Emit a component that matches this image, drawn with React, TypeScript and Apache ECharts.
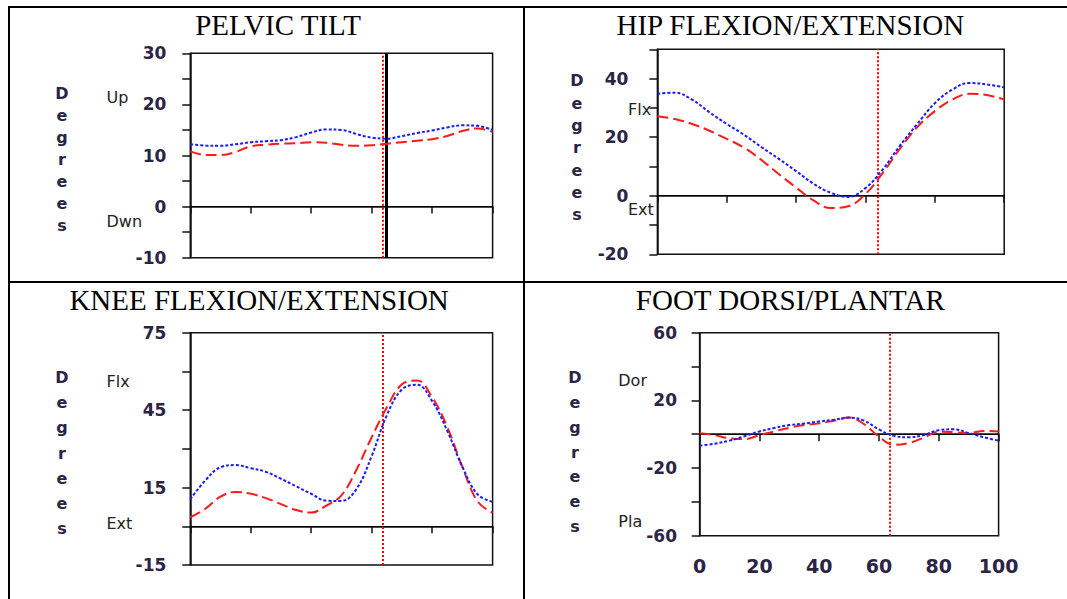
import React, { useEffect, useRef } from "react";
import * as echarts from "echarts";

// Percent of gait cycle
const pct = [0, 5, 10, 15, 20, 25, 30, 35, 40, 45, 50, 55, 60, 65, 70, 75, 80, 85, 90, 95, 100];

// Pelvic tilt (degrees)
const pelvicBlue = [12.2, 11.95, 11.9, 12.2, 12.6, 12.8, 13.0, 13.6, 14.5, 15.1, 15.0, 14.2, 13.5, 13.3, 13.8, 14.4, 14.9, 15.5, 15.9, 15.8, 15.0];
const pelvicRed = [10.8, 10.1, 10.1, 10.7, 11.8, 12.1, 12.3, 12.4, 12.6, 12.5, 12.1, 11.9, 12.0, 12.3, 12.6, 12.9, 13.2, 13.8, 14.8, 15.3, 14.6];

// Hip flexion / extension
const hipBlue = [34.8, 35.2, 32.8, 28.5, 24.5, 20.8, 16.6, 12.6, 8.4, 4.1, 1.0, -0.4, 2.6, 9.0, 17.2, 24.6, 31.6, 36.2, 38.5, 38.0, 37.0];
const hipRed = [27.1, 26.2, 24.5, 22.2, 19.4, 16.4, 12.2, 7.4, 2.8, -1.6, -4.2, -3.6, 0.6, 7.8, 16.2, 23.5, 28.9, 32.8, 34.8, 34.4, 32.8];

// Knee flexion / extension
const kneeBlue = [10.5, 17.8, 22.9, 23.7, 22.5, 21.1, 18.4, 15.5, 12.6, 9.9, 9.8, 14.5, 27.2, 43.0, 53.0, 54.8, 48.5, 37.0, 23.0, 12.4, 9.5];
const kneeRed = [3.5, 6.8, 11.5, 13.3, 12.6, 10.9, 8.6, 6.3, 5.3, 8.0, 12.0, 22.0, 34.5, 46.0, 55.0, 56.5, 50.0, 38.5, 23.0, 9.7, 5.2];

// Foot dorsi / plantar
const footBlue = [-6.8, -5.6, -3.8, -1.2, 1.6, 3.7, 5.4, 6.3, 7.5, 8.6, 9.8, 8.0, 2.8, -1.0, -1.8, -0.5, 2.4, 2.9, 0.7, -1.8, -3.8];
const footRed = [0.5, -0.6, -2.4, -2.9, -0.6, 1.7, 3.8, 5.4, 6.4, 8.0, 9.8, 6.0, -1.5, -6.3, -5.2, -2.0, 1.4, 1.2, 0.6, 1.9, 1.6];

// Event markers (percent of cycle)
const toeOffPct = 63.6;
const pelvicBlackPct = 64.9;

// Tick labels
const xTickLabels = [0, 20, 40, 60, 80, 100];
const pelvicTickLabels = [-10, 0, 10, 20, 30];
const hipTickLabels = [-20, 0, 20, 40];
const kneeTickLabels = [-15, 15, 45, 75];
const footTickLabels = [-60, -20, 20, 60];

const titles = ["PELVIC TILT", "HIP FLEXION/EXTENSION", "KNEE FLEXION/EXTENSION", "FOOT DORSI/PLANTAR"];
const upperNotes = ["Up", "Flx", "Flx", "Dor"];
const lowerNotes = ["Dwn", "Ext", "Ext", "Pla"];

const SANS = "DejaVu Sans";
const SERIF = "Liberation Serif";
const NUM_COLOR = "#2b2444";
const BLUE = "#1a1aff";
const RED = "#ff1a1a";

const panels = [
  {
    grid: { left: 190.3, top: 53.3, width: 302.3, height: 204.4 },
    yMin: -10, yMax: 30, yStep: 5, labels: pelvicTickLabels, labelMargin: 24,
    blue: pelvicBlue, red: pelvicRed, black: true, showX: false,
    titleX: 278, titleY: 24.5, degX: 62, degY: 159.5, degLH: 22.1,
    noteX: 106.5, upY: 97, downY: 221.3,
  },
  {
    grid: { left: 657.4, top: 49.3, width: 346.8, height: 205 },
    yMin: -20, yMax: 50, yStep: 10, labels: hipTickLabels, labelMargin: 29,
    blue: hipBlue, red: hipRed, black: false, showX: false,
    titleX: 790.3, titleY: 24.5, degX: 577, degY: 147.8, degLH: 22.4,
    noteX: 628, upY: 109.2, downY: 209.7,
  },
  {
    grid: { left: 190.3, top: 332.7, width: 302.3, height: 232.3 },
    yMin: -15, yMax: 75, yStep: 15, labels: kneeTickLabels, labelMargin: 24,
    blue: kneeBlue, red: kneeRed, black: false, showX: false,
    titleX: 259.1, titleY: 299.5, degX: 62, degY: 453, degLH: 25.1,
    noteX: 106.5, upY: 381.3, downY: 523.3,
  },
  {
    grid: { left: 699.6, top: 332.7, width: 299, height: 203 },
    yMin: -60, yMax: 60, yStep: 20, labels: footTickLabels, labelMargin: 22.6,
    blue: footBlue, red: footRed, black: false, showX: true,
    titleX: 790.3, titleY: 299.5, degX: 575, degY: 452.2, degLH: 24.8,
    noteX: 618.3, upY: 380.5, downY: 521.3,
  },
];

function buildOption() {
  const grids: any[] = [];
  const xAxes: any[] = [];
  const yAxes: any[] = [];
  const series: any[] = [];
  const graphics: any[] = [];

  // table borders
  graphics.push(
    { type: "rect", shape: { x: 8, y: 6, width: 2, height: 593 }, style: { fill: "#000" } },
    { type: "rect", shape: { x: 8, y: 6, width: 1059, height: 2 }, style: { fill: "#000" } },
    { type: "rect", shape: { x: 523, y: 6, width: 2, height: 593 }, style: { fill: "#000" } },
    { type: "rect", shape: { x: 8, y: 281, width: 1059, height: 2 }, style: { fill: "#000" } }
  );

  panels.forEach((p, i) => {
    grids.push({
      ...p.grid,
      show: true,
      borderColor: "#111",
      borderWidth: 1.5,
      backgroundColor: "transparent",
      containLabel: false,
    });
    xAxes.push({
      type: "value",
      gridIndex: i,
      min: 0,
      max: 100,
      interval: 20,
      axisLine: { show: true, lineStyle: { color: "#111", width: 1.5 } },
      axisTick: { show: true, inside: false, length: 7, lineStyle: { color: "#111", width: 1.5 } },
      splitLine: { show: false },
      axisLabel: {
        show: p.showX,
        margin: 21,
        fontFamily: SANS,
        fontWeight: "bold",
        fontSize: 19,
        color: NUM_COLOR,
        formatter: (v: number) => (xTickLabels.includes(v) ? String(v) : ""),
      },
    });
    yAxes.push({
      type: "value",
      gridIndex: i,
      min: p.yMin,
      max: p.yMax,
      interval: p.yStep,
      axisLine: { show: true, lineStyle: { color: "#111", width: 1.5 } },
      axisTick: { show: true, inside: false, length: 8, lineStyle: { color: "#111", width: 1.5 } },
      splitLine: { show: false },
      axisLabel: {
        show: true,
        margin: p.labelMargin,
        fontFamily: SANS,
        fontWeight: "bold",
        fontSize: 17,
        color: NUM_COLOR,
        formatter: (v: number) => (p.labels.includes(v) ? String(v) : ""),
      },
    });

    const markData: any[] = [
      { yAxis: 0, lineStyle: { color: "#000", width: 1.2, type: "solid" } },
      { xAxis: toeOffPct, lineStyle: { color: "#ff0000", width: 2, type: [2, 2] } },
    ];
    if (p.black) {
      markData.push({ xAxis: pelvicBlackPct, lineStyle: { color: "#000", width: 3, type: "solid" } });
    }

    series.push({
      type: "line",
      name: "ref" + i,
      xAxisIndex: i,
      yAxisIndex: i,
      data: pct.map((x, j) => [x, p.red[j]]),
      smooth: 0.4,
      symbol: "none",
      showSymbol: false,
      lineStyle: { color: RED, width: 2, type: [11, 5] },
      z: 3,
      markLine: {
        silent: true,
        symbol: ["none", "none"],
        label: { show: false },
        data: markData,
        z: 2,
      },
    });
    series.push({
      type: "line",
      name: "pat" + i,
      xAxisIndex: i,
      yAxisIndex: i,
      data: pct.map((x, j) => [x, p.blue[j]]),
      smooth: 0.4,
      symbol: "none",
      showSymbol: false,
      lineStyle: { color: BLUE, width: 2, type: [3, 2] },
      z: 4,
    });

    graphics.push({
      type: "text",
      x: p.titleX,
      y: p.titleY,
      style: {
        text: titles[i],
        fontFamily: SERIF,
        fontSize: 29,
        fill: "#000",
        align: "center",
        verticalAlign: "middle",
      },
    });
    graphics.push({
      type: "text",
      x: p.degX,
      y: p.degY,
      style: {
        text: "D\ne\ng\nr\ne\ne\ns",
        fontFamily: SANS,
        fontWeight: "bold",
        fontSize: 16,
        lineHeight: p.degLH,
        fill: NUM_COLOR,
        align: "center",
        verticalAlign: "middle",
      },
    });
    graphics.push({
      type: "text",
      x: p.noteX,
      y: p.upY,
      style: {
        text: upperNotes[i],
        fontFamily: SANS,
        fontSize: 16,
        fill: "#222",
        align: "left",
        verticalAlign: "middle",
      },
    });
    graphics.push({
      type: "text",
      x: p.noteX,
      y: p.downY,
      style: {
        text: lowerNotes[i],
        fontFamily: SANS,
        fontSize: 16,
        fill: "#222",
        align: "left",
        verticalAlign: "middle",
      },
    });
  });

  return {
    animation: false,
    backgroundColor: "#fff",
    grid: grids,
    xAxis: xAxes,
    yAxis: yAxes,
    series,
    graphic: { elements: graphics },
  };
}

export default function App() {
  const ref = useRef<HTMLDivElement>(null);
  useEffect(() => {
    if (!ref.current) return;
    const chart = echarts.init(ref.current, null, { renderer: "svg" });
    chart.setOption(buildOption() as any);
    return () => chart.dispose();
  }, []);
  return (
    <div
      ref={ref}
      style={{ position: "fixed", left: 0, top: 0, width: 1067, height: 599, background: "#fff" }}
    />
  );
}
